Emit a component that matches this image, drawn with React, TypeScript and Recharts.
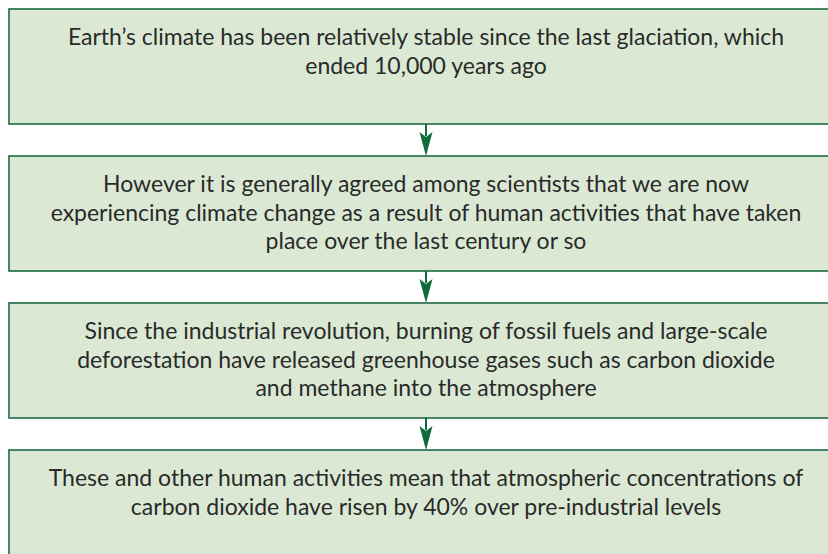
import React from "react";
import { BarChart, Bar, XAxis, YAxis, LabelList } from "recharts";

const steps = ["step1", "step2", "step3", "step4"];

const stepLines = [
  [
    "Earth\u2019s climate has been relatively stable since the last glaciation, which",
    "ended 10,000 years ago",
  ],
  [
    "However it is generally agreed among scientists that we are now",
    "experiencing climate change as a result of human activities that have taken",
    "place over the last century or so",
  ],
  [
    "Since the industrial revolution, burning of fossil fuels and large-scale",
    "deforestation have released greenhouse gases such as carbon dioxide",
    "and methane into the atmosphere",
  ],
  [
    "These and other human activities mean that atmospheric concentrations of",
    "carbon dioxide have risen by 40% over pre-industrial levels",
  ],
];

// every box spans the full width of the flow
const spans = [1, 1, 1, 1];

const data = steps.map((step, i) => ({ step, span: spans[i], lines: stepLines[i] }));

const BOX_FILL = "#dbe9d4";
const BOX_STROKE = "#1c6b45";
const ARROW = "#0d6b3c";
const GAP = 32;

const BoxShape = (props: any) => {
  const { x, y, width, height, index } = props;
  const cx = x + width / 2;
  const bottom = y + height;
  return (
    <g>
      <rect x={x} y={y} width={width} height={height} fill={BOX_FILL} stroke={BOX_STROKE} strokeWidth={1.6} />
      {index < steps.length - 1 && (
        <g>
          <line x1={cx} y1={bottom} x2={cx} y2={bottom + 12} stroke={ARROW} strokeWidth={2} />
          <path
            d={`M${cx - 6.5},${bottom + 8} L${cx},${bottom + 13} L${cx + 6.5},${bottom + 8} L${cx},${bottom + GAP} Z`}
            fill={ARROW}
          />
        </g>
      )}
    </g>
  );
};

const BoxText = (props: any) => {
  const { x, y, width, index } = props;
  const lines = stepLines[index] || [];
  return (
    <text
      x={x + width / 2}
      y={y + 36}
      textAnchor="middle"
      fill="#2a2a2a"
      fontSize={23}
      fontFamily="Lato, sans-serif"
    >
      {lines.map((line, i) => (
        <tspan key={i} x={x + width / 2} dy={i === 0 ? 0 : 28.5}>
          {line}
        </tspan>
      ))}
    </text>
  );
};

export default function App() {
  return (
    <div style={{ position: "absolute", left: 0, top: 0, width: 828, height: 554, overflow: "hidden", background: "#fff" }}>
      <div style={{ position: "absolute", left: 0, top: -7 }}>
        <BarChart
          width={870}
          height={588}
          data={data}
          layout="vertical"
          margin={{ top: 0, right: 27, bottom: 0, left: 9 }}
          barCategoryGap={GAP / 2}
        >
          <XAxis type="number" domain={[0, 1]} hide />
          <YAxis type="category" dataKey="step" hide />
          <Bar dataKey="span" isAnimationActive={false} shape={<BoxShape />}>
            <LabelList dataKey="span" content={<BoxText />} />
          </Bar>
        </BarChart>
      </div>
    </div>
  );
}
